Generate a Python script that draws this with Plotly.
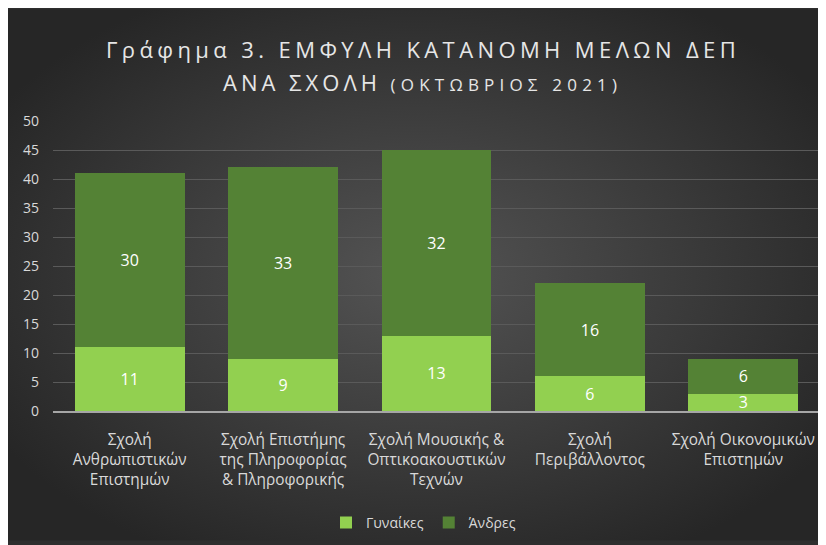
import base64
import plotly.graph_objects as go

categories = [
    "Σχολή<br>Ανθρωπιστικών<br>Επιστημών",
    "Σχολή Επιστήμης<br>της Πληροφορίας<br>& Πληροφορικής",
    "Σχολή Μουσικής &<br>Οπτικοακουστικών<br>Τεχνών",
    "Σχολή<br>Περιβάλλοντος",
    "Σχολή Οικονομικών<br>Επιστημών",
]
women = [11, 9, 13, 6, 3]
men = [30, 33, 32, 16, 6]
y_ticks = [0, 5, 10, 15, 20, 25, 30, 35, 40, 45, 50]

# page has an 8px body margin; figure coordinates = page coordinates - 8
W, H = 818, 537
L, R, T, B = 45, 6, 113, 131
PW, PH = W - L - R, H - T - B

def px_x(px):
    return (px - 8 - L) / PW

def px_y(py):
    return (H - B - (py - 8)) / PH

svg = """<svg xmlns='http://www.w3.org/2000/svg' width='818' height='537' viewBox='0 0 818 537' preserveAspectRatio='none'>
<defs><radialGradient id='g' cx='50%' cy='50%' r='60%'>
<stop offset='0' stop-color='#545454'/><stop offset='1' stop-color='#262626'/>
</radialGradient></defs>
<rect width='818' height='537' fill='url(#g)'/></svg>"""
bg = "data:image/svg+xml;base64," + base64.b64encode(svg.encode()).decode()

fig = go.Figure()
fig.add_trace(go.Bar(
    name="Γυναίκες", x=categories, y=women, marker=dict(color="#92D050", line=dict(width=0)),
    text=women, textposition="inside", insidetextanchor="middle", textangle=0,
    textfont=dict(color="#FFFFFF", size=16, family="Open Sans"),
))
fig.add_trace(go.Bar(
    name="Άνδρες", x=categories, y=men, marker=dict(color="#548235", line=dict(width=0)),
    text=men, textposition="inside", insidetextanchor="middle", textangle=0,
    textfont=dict(color="#FFFFFF", size=16, family="Open Sans"),
))

fig.update_layout(
    width=W, height=H,
    margin=dict(l=L, r=R, t=T, b=B, pad=0),
    barmode="stack", bargap=0.283,
    paper_bgcolor="#2E2E2E", plot_bgcolor="rgba(0,0,0,0)",
    font=dict(family="Open Sans", color="#D9D9D9"),
    uniformtext=dict(minsize=16, mode="show"),
    showlegend=True,
    legend=dict(orientation="h", x=px_x(326), xanchor="left", y=px_y(527), yanchor="middle",
                font=dict(size=14, color="#D9D9D9"), itemwidth=30, traceorder="normal",
                bgcolor="rgba(0,0,0,0)"),
    images=[dict(source=bg, xref="paper", yref="paper", x=px_x(8), y=px_y(8),
                 sizex=W / PW, sizey=H / PH, sizing="stretch",
                 xanchor="left", yanchor="top", layer="below")],
    annotations=[
        dict(text="<span style='letter-spacing:4.4px'>Γράφημα 3. ΕΜΦΥΛΗ ΚΑΤΑΝΟΜΗ ΜΕΛΩΝ ΔΕΠ</span>",
             xref="paper", yref="paper",
             x=px_x(423), y=px_y(48), xanchor="center", yanchor="middle", showarrow=False,
             font=dict(size=22, color="#E6E6E6", family="Open Sans")),
        dict(text="<span style='letter-spacing:4px'>ΑΝΑ ΣΧΟΛΗ </span><span style='font-size:17px;letter-spacing:5.2px'>(ΟΚΤΩΒΡΙΟΣ 2021)</span>",
             xref="paper", yref="paper",
             x=px_x(422), y=px_y(82), xanchor="center", yanchor="middle", showarrow=False,
             font=dict(size=22, color="#E6E6E6", family="Open Sans")),
    ],
)
fig.update_yaxes(range=[0, 50], tickvals=y_ticks, showgrid=True, gridcolor="#5A5A5A", gridwidth=1,
                 zeroline=False, showline=False, ticks="", ticklabelstandoff=13,
                 tickfont=dict(size=14, color="#D9D9D9"), fixedrange=True)
fig.update_xaxes(showline=True, linecolor="#A6A6A6", linewidth=1.5, ticks="",
                 ticklabelstandoff=14, tickfont=dict(size=15.4, color="#D9D9D9"), fixedrange=True)

fig.write_html("out.html")
